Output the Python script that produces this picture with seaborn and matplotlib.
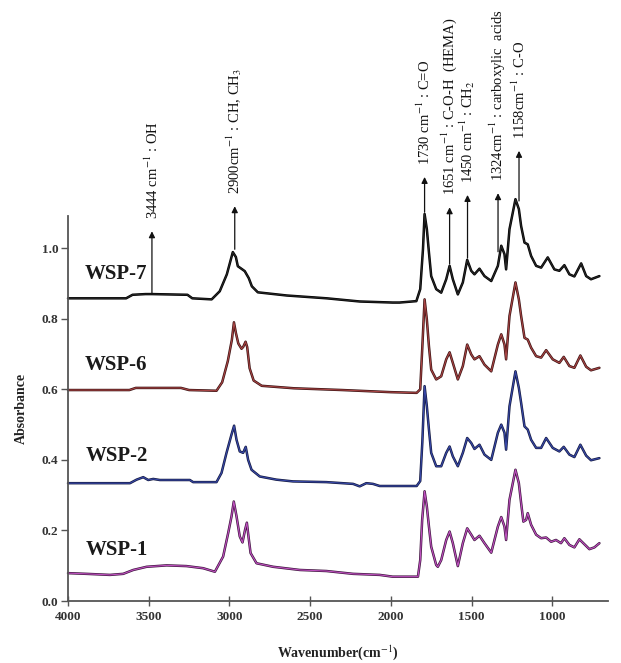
import numpy as np
import pandas as pd
import matplotlib
matplotlib.use("Agg")
import matplotlib.pyplot as plt
import matplotlib.patheffects as pe
import seaborn as sns

# ---------------- data ----------------
WN_7 = [4000, 3640, 3600, 3520, 3480, 3260, 3230, 3110, 3060, 3016, 2979, 2960, 2948, 2920, 2905, 2880,
        2861, 2824, 2645, 2397, 2193, 1989, 1946, 1842, 1818, 1801, 1791, 1777, 1764, 1750, 1719, 1688,
        1657, 1636, 1616, 1585, 1554, 1527, 1502, 1482, 1451, 1420, 1378, 1337, 1316, 1296, 1286, 1265,
        1228, 1207, 1193, 1172, 1152, 1131, 1100, 1069, 1028, 987, 956, 925, 894, 863, 821, 790, 760, 708]
ABS_7 = [0.858, 0.858, 0.868, 0.870, 0.870, 0.868, 0.858, 0.855, 0.878, 0.926, 0.989, 0.975, 0.949, 0.940,
         0.935, 0.915, 0.892, 0.875, 0.866, 0.858, 0.849, 0.846, 0.846, 0.850, 0.884, 0.997, 1.097, 1.054,
         0.988, 0.921, 0.884, 0.874, 0.912, 0.950, 0.912, 0.869, 0.903, 0.967, 0.936, 0.926, 0.942, 0.921,
         0.907, 0.950, 1.007, 0.983, 0.940, 1.054, 1.139, 1.111, 1.063, 1.016, 1.011, 0.978, 0.950, 0.945,
         0.974, 0.940, 0.936, 0.952, 0.926, 0.920, 0.957, 0.921, 0.912, 0.921]

WN_6 = [4000, 3620, 3580, 3300, 3250, 3080, 3045, 3010, 2985, 2972, 2960, 2945, 2925, 2915, 2900, 2890,
        2875, 2850, 2800, 2600, 2300, 2000, 1840, 1818, 1805, 1791, 1777, 1764, 1750, 1719, 1688, 1657,
        1636, 1616, 1585, 1554, 1527, 1502, 1482, 1451, 1420, 1378, 1337, 1316, 1296, 1286, 1265, 1228,
        1207, 1193, 1172, 1152, 1131, 1100, 1069, 1038, 997, 956, 929, 894, 863, 826, 790, 760, 708]
ABS_6 = [0.598, 0.598, 0.604, 0.604, 0.598, 0.596, 0.620, 0.680, 0.740, 0.790, 0.760, 0.730, 0.715, 0.720,
         0.735, 0.720, 0.660, 0.625, 0.610, 0.603, 0.598, 0.592, 0.590, 0.600, 0.720, 0.855, 0.798, 0.722,
         0.656, 0.628, 0.637, 0.685, 0.705, 0.675, 0.628, 0.666, 0.727, 0.699, 0.685, 0.694, 0.670, 0.651,
         0.727, 0.756, 0.727, 0.685, 0.808, 0.903, 0.855, 0.808, 0.746, 0.741, 0.718, 0.694, 0.690, 0.711,
         0.685, 0.675, 0.692, 0.666, 0.661, 0.696, 0.664, 0.654, 0.661]

WN_2 = [4000, 3616, 3575, 3534, 3503, 3472, 3431, 3245, 3225, 3080, 3049, 3018, 2987, 2971, 2956, 2936,
        2915, 2899, 2884, 2863, 2812, 2709, 2606, 2399, 2234, 2193, 2152, 2111, 2069, 1946, 1840, 1818,
        1805, 1791, 1777, 1764, 1750, 1719, 1688, 1657, 1636, 1616, 1585, 1554, 1527, 1502, 1482, 1451,
        1420, 1378, 1337, 1316, 1296, 1286, 1265, 1228, 1207, 1193, 1172, 1152, 1131, 1100, 1069, 1038,
        997, 956, 929, 894, 863, 826, 790, 760, 708]
ABS_2 = [0.334, 0.334, 0.344, 0.351, 0.343, 0.346, 0.343, 0.343, 0.337, 0.337, 0.363, 0.420, 0.472, 0.497,
         0.457, 0.424, 0.420, 0.437, 0.400, 0.372, 0.353, 0.344, 0.339, 0.337, 0.332, 0.325, 0.334, 0.332,
         0.326, 0.326, 0.326, 0.340, 0.450, 0.609, 0.552, 0.486, 0.420, 0.382, 0.382, 0.420, 0.438, 0.410,
         0.382, 0.420, 0.462, 0.448, 0.431, 0.443, 0.415, 0.400, 0.477, 0.500, 0.477, 0.429, 0.552, 0.651,
         0.604, 0.562, 0.495, 0.486, 0.457, 0.434, 0.434, 0.462, 0.434, 0.424, 0.437, 0.415, 0.408, 0.443,
         0.412, 0.399, 0.405]

WN_1 = [4000, 3886, 3740, 3658, 3596, 3513, 3389, 3266, 3163, 3090, 3039, 3008, 2987, 2973, 2956, 2936,
        2919, 2903, 2892, 2882, 2869, 2832, 2729, 2564, 2399, 2234, 2069, 1989, 1832, 1818, 1806, 1791,
        1777, 1764, 1750, 1719, 1709, 1688, 1657, 1636, 1616, 1585, 1554, 1527, 1502, 1482, 1451, 1420,
        1378, 1337, 1316, 1296, 1286, 1265, 1228, 1207, 1193, 1179, 1162, 1152, 1131, 1100, 1069, 1038,
        1007, 977, 946, 925, 894, 863, 832, 801, 770, 739, 708]
ABS_1 = [0.079, 0.077, 0.074, 0.077, 0.088, 0.097, 0.101, 0.099, 0.093, 0.083, 0.126, 0.192, 0.240, 0.282,
         0.240, 0.183, 0.166, 0.202, 0.222, 0.183, 0.136, 0.107, 0.097, 0.088, 0.085, 0.077, 0.074, 0.069,
         0.069, 0.116, 0.230, 0.311, 0.268, 0.211, 0.154, 0.102, 0.097, 0.116, 0.173, 0.197, 0.164, 0.099,
         0.164, 0.206, 0.188, 0.173, 0.185, 0.164, 0.137, 0.211, 0.238, 0.211, 0.173, 0.287, 0.372, 0.334,
         0.278, 0.225, 0.230, 0.249, 0.216, 0.188, 0.178, 0.180, 0.168, 0.173, 0.164, 0.178, 0.159, 0.152,
         0.175, 0.161, 0.147, 0.152, 0.164]

SERIES = ["WSP-7", "WSP-6", "WSP-2", "WSP-1"]
LABEL_POS_WN = [3700, 3700, 3700, 3700]
LABEL_POS_ABS = [0.926, 0.668, 0.410, 0.145]

ANN_TEXT = ["3444 cm$^{-1}$ : OH", "2900cm$^{-1}$ : CH, CH$_3$", "1730 cm$^{-1}$ : C=O",
            "1651 cm$^{-1}$ : C-O-H  (HEMA)", "1450 cm$^{-1}$ : CH$_2$",
            "1324cm$^{-1}$ : carboxylic  acids", "1158cm$^{-1}$ : C-O"]
ANN_WN = [3480, 2967, 1791, 1636, 1525, 1336, 1206]
ANN_BASE = [0.870, 0.997, 1.102, 0.955, 0.972, 0.990, 1.134]
ANN_TIP = [1.048, 1.119, 1.202, 1.116, 1.151, 1.156, 1.276]

X_TICKS = [4000, 3500, 3000, 2500, 2000, 1500, 1000]
Y_TICKS = [0.0, 0.2, 0.4, 0.6, 0.8, 1.0]

# ---------------- styling ----------------
sns.set_style("ticks")
plt.rcParams['font.family'] = ['Liberation Serif', 'DejaVu Serif']
plt.rcParams['mathtext.fontset'] = 'stix'

fig = plt.figure(figsize=(6.21, 6.63), dpi=100)
ax = fig.add_axes([0.1095, 0.0935, 0.8695, 0.580])

colors = {"WSP-7": ("#262626", "#000000"),
          "WSP-6": ("#a84444", "#3a1212"),
          "WSP-2": ("#3848a8", "#141a40"),
          "WSP-1": ("#c050c0", "#3f163f")}
data = {"WSP-7": (WN_7, ABS_7), "WSP-6": (WN_6, ABS_6),
        "WSP-2": (WN_2, ABS_2), "WSP-1": (WN_1, ABS_1)}

for name in SERIES:
    wn, ab = data[name]
    df = pd.DataFrame({"Wavenumber": wn, "Absorbance": ab})
    col, edge = colors[name]
    sns.lineplot(data=df, x="Wavenumber", y="Absorbance", ax=ax, color=col,
                 estimator=None, sort=True, linewidth=0.8, clip_on=False,
                 path_effects=[pe.Stroke(linewidth=1.8, foreground=edge), pe.Normal()])

for name, xw, ya in zip(SERIES, LABEL_POS_WN, LABEL_POS_ABS):
    ax.text(xw, ya, name, fontsize=15, fontweight='bold', ha='center', va='center', color='#1a1a1a')

for txt, xw, yb, yt in zip(ANN_TEXT, ANN_WN, ANN_BASE, ANN_TIP):
    ax.annotate('', xy=(xw, yt), xytext=(xw, yb), annotation_clip=False,
                arrowprops=dict(arrowstyle='-|>', color='#111111', lw=0.9,
                                mutation_scale=9, shrinkA=0, shrinkB=0))
    ax.text(xw, yt + 0.035, txt, rotation=90, ha='center', va='bottom', fontsize=10.5,
            color='#111111', clip_on=False)

ax.set_xlim(4000, 655)
ax.set_ylim(0, 1.09)
ax.set_xticks(X_TICKS)
ax.set_yticks(Y_TICKS)
ax.set_xticklabels([str(t) for t in X_TICKS])
ax.set_yticklabels([f"{t:.1f}" for t in Y_TICKS])
for lab in ax.get_xticklabels() + ax.get_yticklabels():
    lab.set_fontweight('bold')
    lab.set_fontsize(9.5)
    lab.set_color('#333333')

ax.tick_params(axis='x', direction='inout', length=7, width=1.0, color='#555555', pad=4)
ax.tick_params(axis='y', direction='out', length=5, width=1.0, color='#555555', pad=2)
ax.set_xlabel("Wavenumber(cm$^{-1}$)", fontsize=10, fontweight='bold', labelpad=14, color='#222222')
ax.set_ylabel("Absorbance", fontsize=10, fontweight='bold', labelpad=10, color='#222222')

sns.despine(ax=ax, top=True, right=True)
for s in ['left', 'bottom']:
    ax.spines[s].set_color('#555555')
    ax.spines[s].set_linewidth(1.3)

fig.savefig("out.png", dpi=100)
